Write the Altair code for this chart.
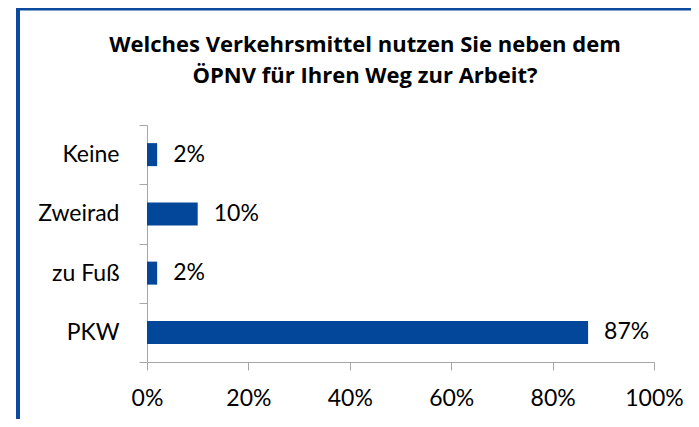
import altair as alt
import pandas as pd

categories = ["Keine", "Zweirad", "zu Fuß", "PKW"]
values = [0.02, 0.10, 0.02, 0.87]
labels = ["2%", "10%", "2%", "87%"]
title_lines = ["Welches Verkehrsmittel nutzen Sie neben dem", "ÖPNV für Ihren Weg zur Arbeit?"]

df = pd.DataFrame({"cat": categories, "val": values, "lab": labels})

FONT = "Lato"
TFONT = "Open Sans"
BLUE = "#03479A"

y_enc = alt.Y("cat:N", sort=categories, title=None,
              scale=alt.Scale(paddingInner=0, paddingOuter=0),
              axis=alt.Axis(tickBand="extent", tickSize=8, labelPadding=20,
                            domainColor="#a6a6a6", tickColor="#a6a6a6",
                            labelColor="#000000", labelFont=FONT, labelFontSize=23,
                            grid=False))
x_enc = alt.X("val:Q", title=None,
              scale=alt.Scale(domain=[0, 1], nice=False),
              axis=alt.Axis(format=".0%", values=[0, 0.2, 0.4, 0.6, 0.8, 1.0],
                            tickSize=8, labelPadding=17,
                            domainColor="#a6a6a6", tickColor="#a6a6a6",
                            labelColor="#000000", labelFont=FONT, labelFontSize=23,
                            labelFlush=False, grid=False))

bars = alt.Chart(df).mark_bar(size=23, color=BLUE).encode(x=x_enc, y=y_enc)
text = alt.Chart(df).mark_text(align="left", baseline="middle", dx=16,
                               font=FONT, fontSize=23, color="#000000").encode(
    x="val:Q", y=alt.Y("cat:N", sort=categories), text="lab:N")

title1 = alt.Chart(alt.Data(values=[{"t": title_lines[0]}])).mark_text(
    font=TFONT, fontSize=22, fontWeight="bold", color="#000000",
    align="center", baseline="alphabetic").encode(
    x=alt.value(218), y=alt.value(-73), text="t:N")
title2 = alt.Chart(alt.Data(values=[{"t": title_lines[1]}])).mark_text(
    font=TFONT, fontSize=22, fontWeight="bold", color="#000000",
    align="center", baseline="alphabetic").encode(
    x=alt.value(218), y=alt.value(-42), text="t:N")

frame_left = alt.Chart(alt.Data(values=[{}])).mark_rule(color="#0B4A9C", strokeWidth=4).encode(
    x=alt.value(-129), y=alt.value(-200), y2=alt.value(400))
frame_top = alt.Chart(alt.Data(values=[{}])).mark_rule(color="#0B4A9C", strokeWidth=3).encode(
    x=alt.value(-131), x2=alt.value(700), y=alt.value(-116))

chart = alt.layer(bars, text, title1, title2, frame_left, frame_top).properties(
    width=507, height=237,
    autosize=alt.AutoSizeParams(type="none"),
    padding={"left": 139, "top": 117, "right": 37, "bottom": 57},
).configure_view(stroke=None)

chart.save("out.html", embed_options={"renderer": "svg", "actions": False})
